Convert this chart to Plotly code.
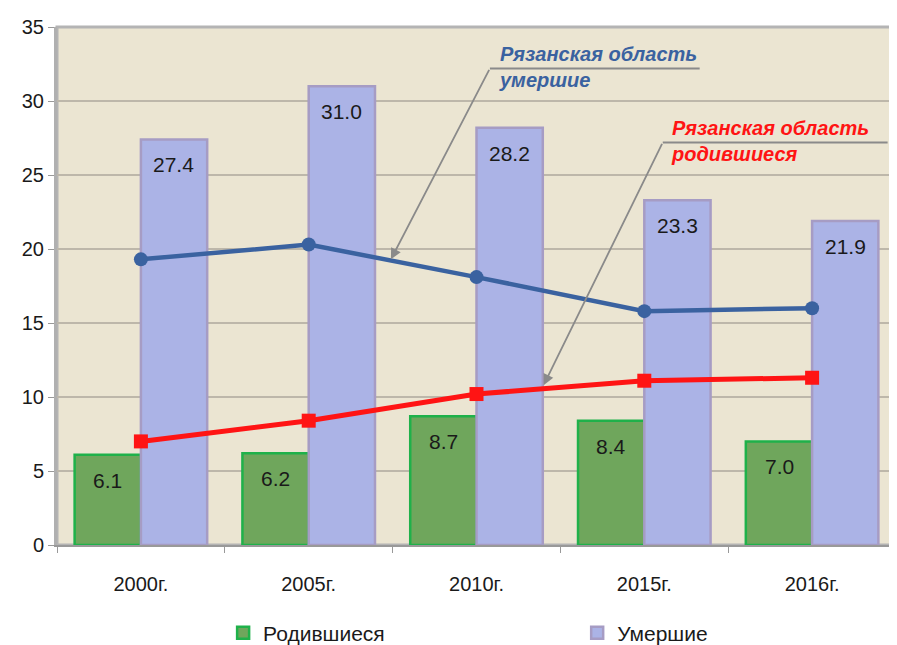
import plotly.graph_objects as go

years = ['2000г.', '2005г.', '2010г.', '2015г.', '2016г.']
born = [6.1, 6.2, 8.7, 8.4, 7.0]
died = [27.4, 31.0, 28.2, 23.3, 21.9]
region_died = [19.3, 20.3, 18.1, 15.8, 16.0]
region_born = [7.0, 8.4, 10.2, 11.1, 11.3]

FONT = 'Liberation Sans, Arial, sans-serif'
GREEN = '#6FA65C'
GREEN_EDGE = '#1FB14A'
PURPLE = '#ABB3E6'
PURPLE_EDGE = '#A69CC4'
BLUE = '#3A62A0'
RED = '#FF1414'
ARROW = '#8A8A8A'
BAR_HALF = 33  # px from category centre to each bar centre

fig = go.Figure()

fig.add_trace(go.Bar(
    x=years, y=born, name='Родившиеся', legend='legend',
    marker=dict(color=GREEN, line=dict(color=GREEN_EDGE, width=2.5)),
))
fig.add_trace(go.Bar(
    x=years, y=died, name='Умершие', legend='legend2',
    marker=dict(color=PURPLE, line=dict(color=PURPLE_EDGE, width=2.5)),
))

fig.add_trace(go.Scatter(
    x=years, y=region_died, mode='lines+markers', showlegend=False,
    line=dict(color=BLUE, width=4.5),
    marker=dict(symbol='circle', size=14, color=BLUE),
))
fig.add_trace(go.Scatter(
    x=years, y=region_born, mode='lines+markers', showlegend=False,
    line=dict(color=RED, width=5),
    marker=dict(symbol='square', size=14, color=RED),
))

# value labels a little below the top of each bar
for vals, shift in ((born, -BAR_HALF), (died, BAR_HALF)):
    for yr, v in zip(years, vals):
        fig.add_annotation(x=yr, y=v, xref='x', yref='y', text=f'{v:.1f}',
                           showarrow=False, xshift=shift, yshift=-12,
                           yanchor='top', font=dict(size=21, color='#1a1a1a'))

# callouts: arrow from label to line, plus the underline under the first text row
callouts = [
    # head x, head y, tail x, tail y, underline end x, colour, text
    (1.49, 19.3, 2.08, 32.2, 3.33, BLUE, 'Рязанская область<br>умершие'),
    (2.40, 10.8, 3.11, 27.2, 4.45, RED, 'Рязанская область<br>родившиеся'),
]
for hx, hy, tx, ty, ex, col, txt in callouts:
    fig.add_annotation(
        x=hx, y=hy, ax=tx, ay=ty, xref='x', yref='y', axref='x', ayref='y',
        text='', showarrow=True, arrowhead=2, arrowsize=1.2, arrowwidth=1.8,
        arrowcolor=ARROW,
    )
    fig.add_shape(type='line', x0=tx, x1=ex, y0=ty, y1=ty, xref='x', yref='y',
                  line=dict(color=ARROW, width=2))
    fig.add_annotation(
        x=tx + 0.04, y=ty + 0.1, xref='x', yref='y', xanchor='left', yanchor='middle',
        text=f'<b><i>{txt}</i></b>', showarrow=False, align='left',
        font=dict(family=FONT, size=20, color=col),
    )

# plot frame
fig.add_shape(type='rect', xref='paper', yref='paper', x0=0, x1=1, y0=0, y1=1,
              line=dict(color='#B4B4B4', width=3), layer='below')

legend_style = dict(orientation='h', yref='container', y=0.031, yanchor='middle',
                    xanchor='left', font=dict(size=21), itemwidth=30,
                    bgcolor='rgba(0,0,0,0)')

fig.update_layout(
    width=897, height=645,
    barmode='group', bargap=0.21, bargroupgap=0,
    plot_bgcolor='#EBE5D2', paper_bgcolor='white',
    margin=dict(l=49, r=9, t=19, b=108),
    font=dict(family=FONT, size=20, color='#1a1a1a'),
    showlegend=True,
    legend=dict(x=0.198, **legend_style),
    legend2=dict(x=0.62, **legend_style),
    xaxis=dict(type='category', range=[-0.5, 4.5], tickson='boundaries',
               ticks='outside', ticklen=6, tickcolor='#999999',
               showline=True, linecolor='#999999', linewidth=2, automargin=False,
               showgrid=False, tickfont=dict(size=20), ticklabelstandoff=20),
    yaxis=dict(range=[0, 35], dtick=5, ticks='outside', ticklen=6,
               tickcolor='#999999', showline=True, linecolor='#B0B0B0',
               linewidth=3, gridcolor='#BDB7AA', gridwidth=1.5, automargin=False,
               zeroline=False, tickfont=dict(size=20)),
)

fig.write_html('out.html')
